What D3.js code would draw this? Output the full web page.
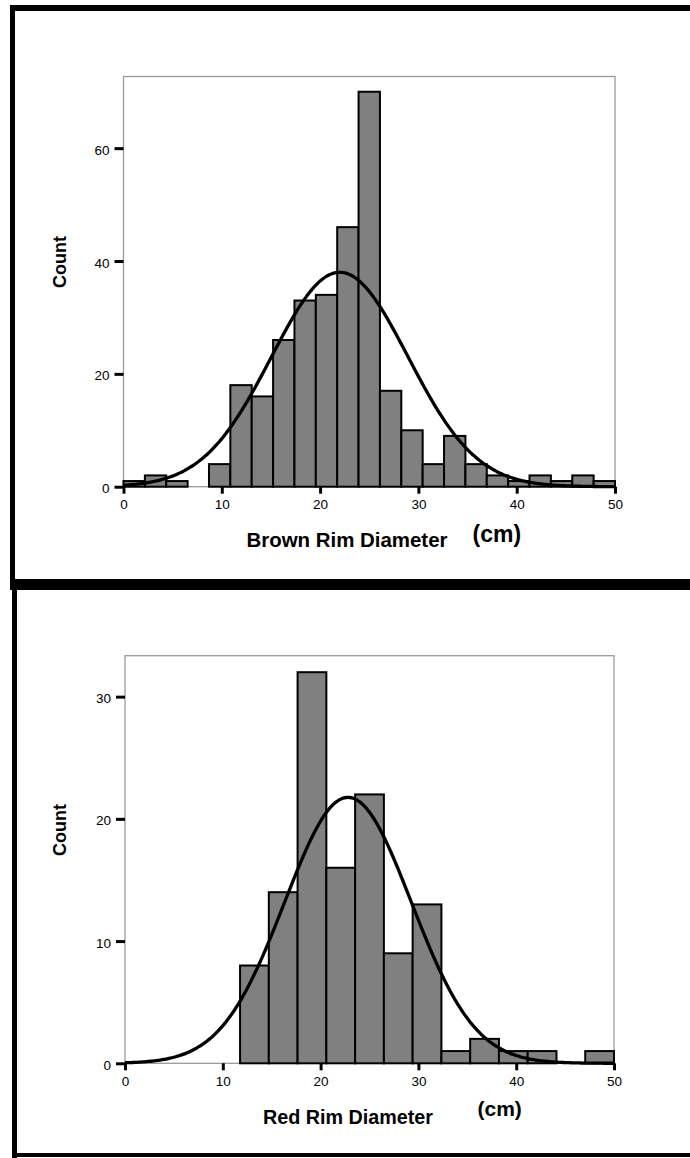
<!DOCTYPE html>
<html>
<head>
<meta charset="utf-8">
<script src="https://cdn.jsdelivr.net/npm/d3@7"></script>
<style>
  body { margin: 0; background: #fff; }
  svg { display: block; }
  text { font-family: "Liberation Sans", Arial, sans-serif; fill: #000; }
</style>
</head>
<body>
<svg id="chart" width="690" height="1158"></svg>
<script>
// Histogram counts per bin, bins spanning 0-50 cm in equal widths
const brownCounts = [1, 2, 1, 0, 4, 18, 16, 26, 33, 34, 46, 70, 17, 10, 4, 9, 4, 2, 1, 2, 1, 2, 1];
const redCounts = [0, 0, 0, 0, 8, 14, 32, 16, 22, 9, 13, 1, 2, 1, 1, 0, 1];

// Fitted normal curve parameters (cm)
const brownMean = 22.0, brownSd = 6.94;
const redMean = 22.8, redSd = 6.47;

// Axis ticks and labels
const xTicks = [0, 10, 20, 30, 40, 50];
const brownYTicks = [0, 20, 40, 60];
const redYTicks = [0, 10, 20, 30];
const xDomain = [0, 50];
const brownTitle = "Brown Rim Diameter";
const redTitle = "Red Rim Diameter";
const unitLabel = "(cm)";
const yTitle = "Count";

const svg = d3.select("#chart");

// Outer panel borders
svg.append("rect").attr("x", 10).attr("y", 5).attr("width", 680).attr("height", 6).attr("fill", "#000");
svg.append("rect").attr("x", 10).attr("y", 5).attr("width", 5).attr("height", 580).attr("fill", "#000");
svg.append("rect").attr("x", 10).attr("y", 579).attr("width", 680).attr("height", 11).attr("fill", "#000");
svg.append("rect").attr("x", 12).attr("y", 584).attr("width", 5).attr("height", 574).attr("fill", "#000");
svg.append("rect").attr("x", 12).attr("y", 1153).attr("width", 678).attr("height", 4).attr("fill", "#000");

function drawPanel(p) {
  const g = svg.append("g");
  const x = d3.scaleLinear().domain(xDomain).range([p.left, p.right]);
  const y = d3.scaleLinear().domain([0, p.yTop]).range([p.base, p.top]);
  const n = p.counts.length;
  const bw = (xDomain[1] - xDomain[0]) / n;
  const total = d3.sum(p.counts);

  // plot frame
  g.append("rect")
    .attr("x", p.left).attr("y", p.top)
    .attr("width", p.right - p.left).attr("height", p.base - p.top)
    .attr("fill", "none").attr("stroke", "#9a9a9a").attr("stroke-width", 1.3);

  // bars
  g.append("g").selectAll("rect")
    .data(p.counts.map((c, i) => ({ c, i })).filter(d => d.c > 0))
    .join("rect")
    .attr("x", d => x(d.i * bw))
    .attr("width", d => x((d.i + 1) * bw) - x(d.i * bw))
    .attr("y", d => y(d.c))
    .attr("height", d => y(0) - y(d.c))
    .attr("fill", "#808080")
    .attr("stroke", "#000")
    .attr("stroke-width", 2);

  // normal curve scaled to counts
  const dens = v => total * bw / (p.sd * Math.sqrt(2 * Math.PI)) *
    Math.exp(-0.5 * Math.pow((v - p.mean) / p.sd, 2));
  const pts = d3.range(0, 50.001, 0.2).map(v => [v, dens(v)]);
  g.append("path")
    .datum(pts)
    .attr("fill", "none")
    .attr("stroke", "#000")
    .attr("stroke-width", 3.3)
    .attr("stroke-linejoin", "round")
    .attr("d", d3.line().x(d => x(d[0])).y(d => y(d[1])).curve(d3.curveBasis));

  // y axis
  const ya = g.append("g")
    .attr("transform", `translate(${p.left},0)`)
    .call(d3.axisLeft(y).tickValues(p.yTicks).tickSize(9).tickPadding(5).tickFormat(d3.format("d")));
  ya.select(".domain").remove();
  ya.selectAll(".tick line").attr("stroke", "#000").attr("stroke-width", 3);
  ya.selectAll(".tick text").style("font-size", "13.5px").attr("dy", "0.45em");

  // x axis
  const xa = g.append("g")
    .attr("transform", `translate(0,${p.base})`)
    .call(d3.axisBottom(x).tickValues(xTicks).tickSize(7).tickPadding(6).tickFormat(d3.format("d")));
  xa.select(".domain").remove();
  xa.selectAll(".tick line").attr("stroke", "#000").attr("stroke-width", 3);
  xa.selectAll(".tick text").style("font-size", "13.5px");

  // titles
  g.append("text")
    .attr("x", p.titleX).attr("y", p.titleY)
    .style("font-size", "21px").attr("font-weight", "bold")
    .attr("textLength", p.titleW).attr("lengthAdjust", "spacingAndGlyphs")
    .text(p.title);
  g.append("text")
    .attr("x", p.unitX).attr("y", p.unitY)
    .style("font-size", p.unitSize + "px").attr("font-weight", "bold")
    .text(unitLabel);
  g.append("text")
    .attr("transform", `translate(${p.countX},${p.countY}) rotate(-90)`)
    .attr("text-anchor", "middle")
    .style("font-size", "18px").attr("font-weight", "bold")
    .text(yTitle);
}

drawPanel({
  counts: brownCounts, mean: brownMean, sd: brownSd, yTicks: brownYTicks,
  left: 123.5, right: 615, top: 76.5, base: 486.7, yTop: 72.7,
  title: brownTitle, titleX: 246.5, titleY: 546.5, titleW: 201,
  unitX: 472.5, unitY: 542, unitSize: 23,
  countX: 66, countY: 262
});

drawPanel({
  counts: redCounts, mean: redMean, sd: redSd, yTicks: redYTicks,
  left: 125, right: 614, top: 655.7, base: 1063.3, yTop: 33.35,
  title: redTitle, titleX: 263, titleY: 1124, titleW: 170,
  unitX: 477.5, unitY: 1116, unitSize: 21,
  countX: 66, countY: 830
});
</script>
</body>
</html>
